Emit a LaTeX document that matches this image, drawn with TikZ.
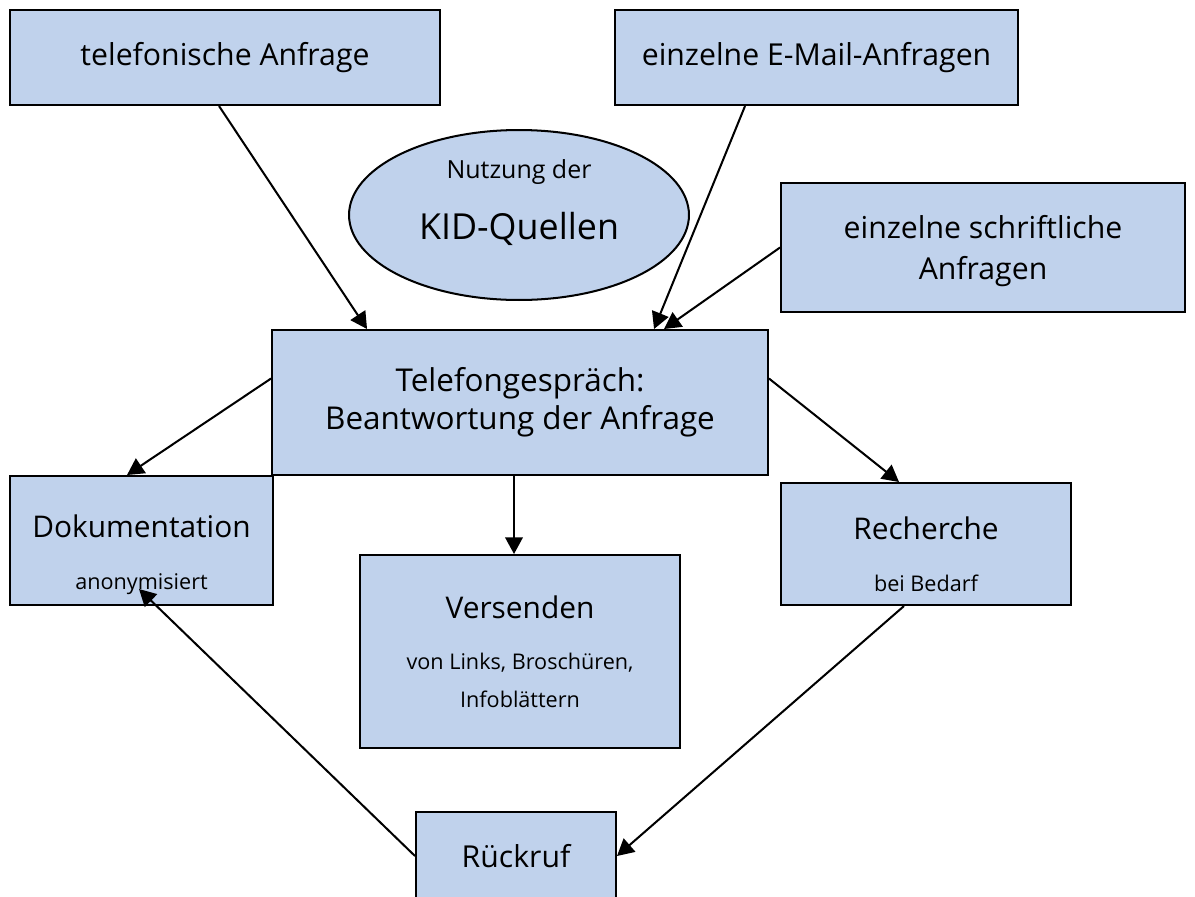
\documentclass[tikz,border=0pt]{standalone}
\usepackage{fontspec}
\setmainfont{Open Sans}
\usepackage{xcolor}
\usetikzlibrary{arrows.meta, shapes.geometric, calc}
\definecolor{boxblue}{RGB}{192,210,236}

\newcommand\mainsz{\fontsize{17.2}{21.5}\selectfont}
\newcommand\bigsz{\fontsize{17}{20}\selectfont}
\newcommand\smallsz{\fontsize{12.3}{14}\selectfont}

\begin{document}
\begin{tikzpicture}[
  x=0.02cm, y=-0.02cm,
  box/.style={rectangle, draw=black, fill=boxblue, line width=1.15pt,
              align=center, inner sep=0pt, font=\mainsz},
  txt/.style={align=center, inner sep=0pt, font=\mainsz},
  arr/.style={-{Triangle[length=9.5pt, width=10pt]}, line width=1.15pt, black}
]
\useasboundingbox (0,0) rectangle (1195,896);
\clip (0,0) rectangle (1195,896);
%% Incoming requests
\node[box, minimum width=8.6cm, minimum height=1.9cm] (tel) at (225,57.5) {telefonische Anfrage};
\node[box, minimum width=8.06cm, minimum height=1.9cm] (mail) at (816.5,57.5) {einzelne E-Mail-Anfragen};
\node[box, minimum width=8.08cm, minimum height=2.58cm,
      label={[txt, yshift=-2pt, font=\fontsize{17.2}{23}\selectfont]center:{einzelne schriftliche\\Anfragen}}] (schrift) at (983,247.5) {};
\node[ellipse, draw=black, fill=boxblue, line width=1.15pt,
      minimum width=6.8cm, minimum height=3.4cm,
      label={[txt, yshift=7pt]center:{{\fontsize{14.2}{17}\selectfont Nutzung der}\\[13pt]{\fontsize{20.4}{24}\selectfont KID-Quellen}}}] (kid) at (519,215) {};
%% Central box
\node[box, minimum width=9.92cm, minimum height=2.9cm, font=\fontsize{17.9}{21.5}\selectfont] (gespr) at (520,402.5) {Telefongespr\"ach:\\Beantwortung der Anfrage};
%% Results
\node[box, minimum width=5.26cm, minimum height=2.58cm,
      label={[txt, yshift=-8pt]center:{{\bigsz Dokumentation}\\[8pt]{\smallsz anonymisiert}}}] (doku) at (141.5,540.5) {};
\node[box, minimum width=6.4cm, minimum height=3.86cm] (vers) at (520,651.5)
  {{\bigsz Versenden}\\[7.5pt]{\smallsz von Links, Brosch\"uren,}\\{\smallsz Infobl\"attern}};
\node[box, minimum width=5.8cm, minimum height=2.44cm,
      label={[txt, yshift=-6pt]center:{{\bigsz Recherche}\\[8pt]{\smallsz bei Bedarf}}}] (rech) at (926,544) {};
\node[box, minimum width=4cm, minimum height=1.76cm] (rueck) at (516,856) {R\"uckruf};
%% Arrows
\draw[arr] ($(tel.south west)+(210,0)$) -- ($(gespr.north west)+(96,0)$);
\draw[arr] ($(mail.south west)+(131,0)$) -- ($(gespr.north west)+(383,0)$);
\draw[arr] (schrift.west) -- ($(gespr.north west)+(393,0)$);
\draw[arr] ($(gespr.west)+(0,-24)$) -- ($(doku.north west)+(118,0)$);
\draw[arr] ($(gespr.east)+(0,-24)$) -- ($(rech.north west)+(119,0)$);
\draw[arr] ($(gespr.south)+(-6,0)$) -- ($(vers.north)+(-6,0)$);
\draw[arr] ($(rech.south west)+(124,0)$) -- (rueck.east);
\draw[arr] (rueck.west) -- ($(doku.south west)+(130,-17)$);
\end{tikzpicture}
\end{document}
